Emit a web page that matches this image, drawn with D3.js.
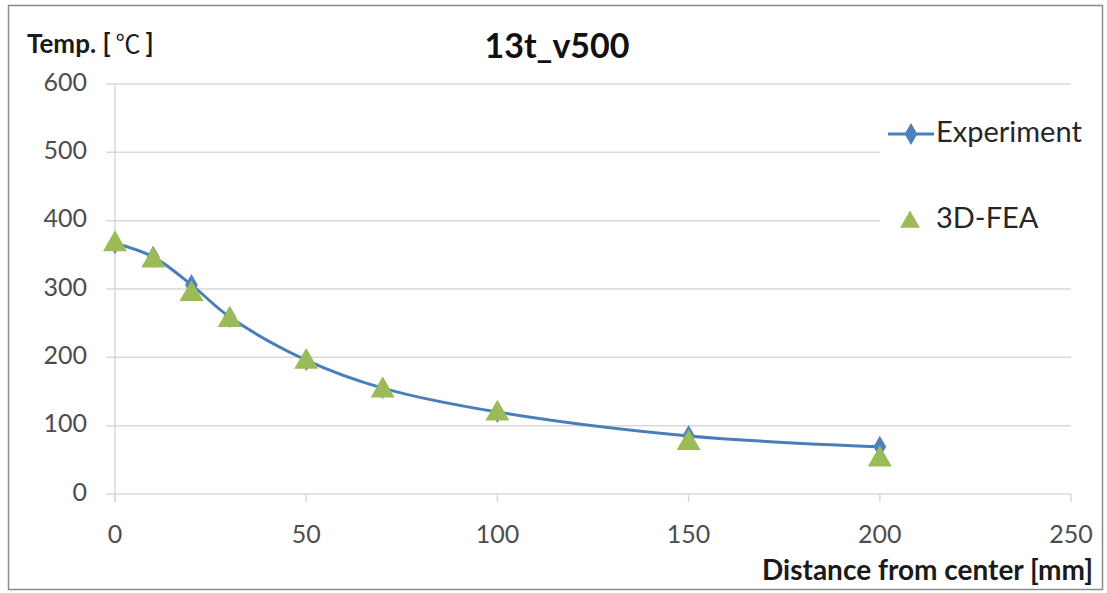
<!DOCTYPE html>
<html><head><meta charset="utf-8">
<script src="https://cdn.jsdelivr.net/npm/d3@7"></script>
<style>body{margin:0;background:#fff}svg{display:block}</style>
</head><body>
<svg id="c" width="1107" height="593"></svg>
<script>
const distances = [0, 10, 20, 30, 50, 70, 100, 150, 200];
const experiment = [367, 347, 306, 259, 196, 155, 120, 85, 69];
const fea = [367, 343, 294, 256, 195, 153, 119, 76, 52];
const xTicks = [0, 50, 100, 150, 200, 250];
const yTicks = [0, 100, 200, 300, 400, 500, 600];
const seriesNames = ["Experiment", "3D-FEA"];

const svg = d3.select("#c");
const font = "Lato, 'Open Sans', sans-serif";
const x = d3.scaleLinear().domain([0, 250]).range([115, 1071]);
const y = d3.scaleLinear().domain([0, 600]).range([494, 84]);

// outer frame
svg.append("rect").attr("x", 8.5).attr("y", 5.5).attr("width", 1094).attr("height", 584)
  .attr("fill", "#fff").attr("stroke", "#8c8c8c").attr("stroke-width", 1.5);

// horizontal gridlines
svg.append("g").selectAll("line").data(yTicks).join("line")
  .attr("x1", 106).attr("x2", x(250)).attr("y1", d => y(d)).attr("y2", d => y(d))
  .attr("stroke", "#d9d9d9").attr("stroke-width", 1.5);

// vertical axis line
svg.append("line").attr("x1", x(0)).attr("x2", x(0)).attr("y1", y(600)).attr("y2", y(0) + 8)
  .attr("stroke", "#d9d9d9").attr("stroke-width", 1.5);
// x tick marks
svg.append("g").selectAll("line").data(xTicks).join("line")
  .attr("x1", d => x(d)).attr("x2", d => x(d)).attr("y1", y(0)).attr("y2", y(0) + 8)
  .attr("stroke", "#d9d9d9").attr("stroke-width", 1.5);

// y tick labels
svg.append("g").selectAll("text").data(yTicks).join("text")
  .attr("x", 87).attr("y", d => y(d) - 2).attr("dy", "0.35em").attr("text-anchor", "end")
  .attr("font-family", font).attr("font-size", 25).attr("fill", "#4d4d4d").text(d => d);
// x tick labels
svg.append("g").selectAll("text").data(xTicks).join("text")
  .attr("x", d => x(d)).attr("y", 543).attr("text-anchor", "middle")
  .attr("font-family", font).attr("font-size", 25).attr("fill", "#4d4d4d").text(d => d);

// titles
svg.append("text").attr("x", 557).attr("y", 58).attr("text-anchor", "middle")
  .attr("font-family", font).attr("font-weight", "bold").attr("font-size", 34).attr("fill", "#111").text("13t_v500");
const yt = svg.append("text").attr("x", 27).attr("y", 53)
  .attr("font-family", font).attr("font-weight", "bold").attr("font-size", 26).attr("fill", "#1a1a1a");
yt.append("tspan").text("Temp. [");
yt.append("tspan").attr("dx", 5).attr("font-family", "'Noto Sans CJK KR', sans-serif").attr("font-weight", "normal").attr("font-size", 25).text("℃");
yt.append("tspan").attr("dx", 5).text("]");
svg.append("text").attr("x", 1093).attr("y", 580).attr("text-anchor", "end")
  .attr("font-family", font).attr("font-weight", "bold").attr("font-size", 28).attr("fill", "#1a1a1a").text("Distance from center [mm]");

// data
const blue = "#4a7ebb", green = "#9bbb59";
const line = d3.line().x((d, i) => x(distances[i])).y(d => y(d)).curve(d3.curveCatmullRom.alpha(0.5));
svg.append("path").datum(experiment).attr("d", line).attr("fill", "none")
  .attr("stroke", blue).attr("stroke-width", 3);
const diamond = d3.symbol().type(d3.symbolDiamond).size(140);
svg.append("g").selectAll("path").data(experiment).join("path")
  .attr("d", diamond).attr("transform", (d, i) => `translate(${x(distances[i])},${y(d)})`)
  .attr("fill", "#4f81bd");
const tri = d3.symbol().type(d3.symbolTriangle).size(250);
svg.append("g").selectAll("path").data(fea).join("path")
  .attr("d", tri).attr("transform", (d, i) => `translate(${x(distances[i])},${y(d) + 1})`)
  .attr("fill", green);

// legend
svg.append("rect").attr("x", 880).attr("y", 112).attr("width", 218).attr("height", 135).attr("fill", "#fff");
svg.append("line").attr("x1", 888).attr("x2", 934).attr("y1", 134).attr("y2", 134)
  .attr("stroke", blue).attr("stroke-width", 3);
svg.append("path").attr("d", diamond).attr("transform", "translate(911,134)").attr("fill", "#4f81bd");
svg.append("text").attr("x", 936).attr("y", 142)
  .attr("font-family", font).attr("font-size", 29).attr("fill", "#262626").text(seriesNames[0]);
svg.append("path").attr("d", d3.symbol().type(d3.symbolTriangle).size(170)).attr("transform", "translate(910,222)").attr("fill", green);
svg.append("text").attr("x", 936).attr("y", 228)
  .attr("font-family", font).attr("font-size", 29).attr("fill", "#262626").text(seriesNames[1]);
</script>
</body></html>
